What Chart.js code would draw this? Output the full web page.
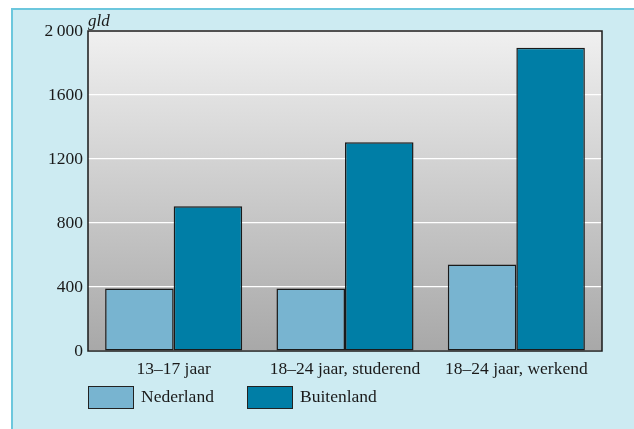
<!DOCTYPE html>
<html>
<head>
<meta charset="utf-8">
<script src="https://cdn.jsdelivr.net/npm/chart.js@4"></script>
<style>
  body { margin: 0; background: #fff; }
  #wrap { position: relative; width: 634px; height: 429px; overflow: hidden; }
  #panel { position: absolute; left: 11px; top: 8px; right: 0; bottom: 0;
           background: #cdebf2; border-left: 2px solid #6cc7dd; border-top: 2px solid #6cc7dd; }
  canvas { position: absolute; left: 0; top: 0; }
  .lg-box { position: absolute; top: 386px; width: 44px; height: 21px; border: 1.5px solid #222; }
  .lg-txt { position: absolute; top: 386px; height: 24px; line-height: 24px;
            font: 17.5px "Liberation Serif", serif; color: #1a1a1a; }
</style>
</head>
<body>
<div id="wrap">
  <div id="panel"></div>
  <canvas id="myChart" width="634" height="429"></canvas>
  <div id="legend"></div>
</div>
<script>
const categories = ['13–17 jaar', '18–24 jaar, studerend', '18–24 jaar, werkend'];
const nederland = [390, 390, 540];
const buitenland = [905, 1305, 1895];
const seriesNames = ['Nederland', 'Buitenland'];
const seriesColors = ['#78b4d0', '#007ea6'];
const yTicks = [0, 400, 800, 1200, 1600, 2000];
const yTickLabels = ['0', '400', '800', '1200', '1600', '2\u2009000'];
const unitLabel = 'gld';

const FONT = '"Liberation Serif", serif';

// grey gradient behind the bars, border round the plot, unit label on top
const plotArea = {
  id: 'plotArea',
  beforeDraw: (chart) => {
    const {ctx, chartArea: a} = chart;
    const g = ctx.createLinearGradient(0, a.top, 0, a.bottom);
    g.addColorStop(0, '#f0f0f0');
    g.addColorStop(1, '#a8a8a8');
    ctx.save();
    ctx.fillStyle = g;
    ctx.fillRect(a.left, a.top, a.right - a.left, a.bottom - a.top);
    ctx.restore();
  },
  beforeDatasetsDraw: (chart) => {
    const {ctx, chartArea: a} = chart;
    ctx.save();
    ctx.strokeStyle = '#1a1a1a';
    ctx.lineWidth = 1.5;
    ctx.strokeRect(a.left, a.top, a.right - a.left, a.bottom - a.top);
    ctx.restore();
  },
  afterDraw: (chart) => {
    const {ctx, chartArea: a} = chart;
    ctx.save();
    ctx.font = 'italic 17px ' + FONT;
    ctx.fillStyle = '#1a1a1a';
    ctx.textAlign = 'left';
    ctx.textBaseline = 'alphabetic';
    ctx.fillText(unitLabel, a.left, a.top - 5);
    ctx.restore();
  }
};

const data = {
  labels: categories,
  datasets: [
    { label: seriesNames[0], data: nederland, backgroundColor: seriesColors[0] },
    { label: seriesNames[1], data: buitenland, backgroundColor: seriesColors[1] }
  ]
};

const config = {
  type: 'bar',
  data: data,
  options: {
    responsive: false,
    animation: false,
    layout: { padding: { left: 12, top: 31, right: 32, bottom: 46 } },
    datasets: {
      bar: {
        borderColor: '#1a1a1a',
        borderWidth: 1.5,
        borderSkipped: false,
        categoryPercentage: 0.8,
        barPercentage: 1.0
      }
    },
    plugins: {
      legend: { display: false },
      tooltip: { enabled: false }
    },
    scales: {
      x: {
        grid: { display: false },
        border: { display: false },
        ticks: { color: '#1a1a1a', font: { family: FONT, size: 17.5 }, padding: 0, maxRotation: 0 },
        afterFit: (s) => { s.height = 32; }
      },
      y: {
        min: 0,
        max: 2000,
        afterBuildTicks: (s) => { s.ticks = yTicks.map(v => ({ value: v })); },
        grid: { color: '#ffffff', lineWidth: 1.2, drawTicks: false },
        border: { display: false },
        ticks: {
          color: '#1a1a1a',
          font: { family: FONT, size: 17.5 },
          padding: 5,
          callback: (v) => yTickLabels[yTicks.indexOf(v)]
        },
        afterFit: (s) => { s.width = 76; }
      }
    }
  },
  plugins: [plotArea]
};

const myChart = new Chart(document.getElementById('myChart'), config);

// legend below the plot
const legendPos = [88, 247];
const legend = document.getElementById('legend');
seriesNames.forEach((name, i) => {
  const box = document.createElement('div');
  box.className = 'lg-box';
  box.style.left = legendPos[i] + 'px';
  box.style.background = seriesColors[i];
  legend.appendChild(box);
  const txt = document.createElement('div');
  txt.className = 'lg-txt';
  txt.style.left = (legendPos[i] + 53) + 'px';
  txt.textContent = name;
  legend.appendChild(txt);
});
</script>
</body>
</html>
